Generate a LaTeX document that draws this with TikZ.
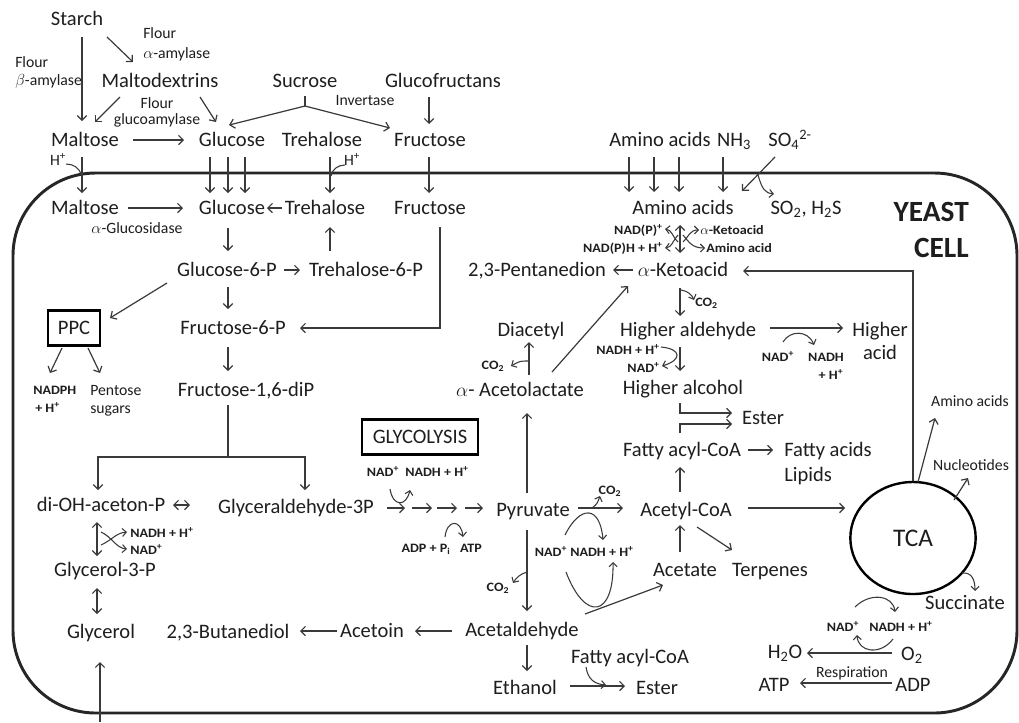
\documentclass[tikz,border=0pt]{standalone}
\usepackage{fontspec}
\setmainfont{Carlito}
\newfontfamily\cofont[FakeStretch=1.1]{Carlito}
\usetikzlibrary{arrows.meta,shapes.geometric}
\definecolor{txtc}{HTML}{1E1E1E}
\definecolor{linc}{HTML}{3A3A3A}
\newcommand\mfs{\fontsize{15.4}{18}\selectfont}
\newcommand\sfs{\fontsize{11.8}{14}\selectfont}
\newcommand\cfs{\cofont\bfseries\fontsize{9.6}{12}\selectfont}
\begin{document}
\begin{tikzpicture}[x=0.75pt,y=-0.75pt,
 every node/.style={inner sep=0pt, text=txtc},
 m/.style={font=\mfs, anchor=base, yshift=-5pt},
 s/.style={font=\sfs, anchor=base, yshift=-3.9pt},
 c/.style={font=\cfs, anchor=base, yshift=-3.2pt},
 ln/.style={draw=linc, line width=0.9pt},
 ar/.style={ln, -{Straight Barb[length=3.5pt,width=7pt]}},
 dar/.style={ln, {Straight Barb[length=3.5pt,width=7pt]}-{Straight Barb[length=3.5pt,width=7pt]}},
 curl/.style={ln, line width=0.8pt, -{Straight Barb[length=3pt,width=6pt]}},
 boxed/.style={draw=black, line width=1.8pt, minimum height=26pt, inner sep=0pt}
]
\fill[white] (0,0) rectangle (1019,722);
\useasboundingbox (0,0) rectangle (1019,722);
% membrane
\draw[line width=2.2pt, black!85, rounded corners=62pt] (13,173) rectangle (1017,713);

% ---------- outside ----------
\node[m] (starch) at (77,19) {Starch};
\node[s, anchor=base west] (flA1) at (143,33) {Flour};
\node[s, anchor=base west] (flA2) at (143,53) {$\alpha$-amylase};
\node[s, anchor=base west] (flB1) at (15,62) {Flour};
\node[s, anchor=base west] (flB2) at (15,80) {$\beta$-amylase};
\node[m] (mdx) at (160,81) {Maltodextrins};
\node[s] (flG1) at (157,103) {Flour};
\node[s] (flG2) at (157,119) {glucoamylase};
\node[m] (sucr) at (305,81) {Sucrose};
\node[s] (inv) at (365,100) {Invertase};
\node[m] (gfr) at (443,81) {Glucofructans};
\node[m] (maltO) at (85,140) {Maltose};
\node[m] (glcO) at (232,140) {Glucose};
\node[m] (treO) at (322,140) {Trehalose};
\node[m] (fruO) at (430,140) {Fructose};
\node[m] (aaO) at (660,140) {Amino acids};
\node[m] (nh3) at (734,140) {NH\textsubscript{3}};
\node[m] (so4) at (790,140) {SO\textsubscript{4}\textsuperscript{2-}};
\node[s] (hA) at (58,160) {H\textsuperscript{+}};
\node[s] (hB) at (352,160) {H\textsuperscript{+}};

% ---------- inside ----------
\node[m] (maltI) at (85,208) {Maltose};
\node[s] (aglc) at (137,228) {$\alpha$-Glucosidase};
\node[m] (glcI) at (232,208) {Glucose};
\node[m] (treI) at (325,208) {Trehalose};
\node[m] (fruI) at (430,208) {Fructose};
\node[m] (aaI) at (683,208) {Amino acids};
\node[m] (so2) at (806,208) {SO\textsubscript{2}, H\textsubscript{2}S};
\node[font=\bfseries\fontsize{22}{26}\selectfont, anchor=base east] (yeast) at (969,221) {YEAST};
\node[font=\bfseries\fontsize{22}{26}\selectfont, anchor=base east] (cell) at (969,257) {CELL};

\node[m] (g6p) at (227,270) {Glucose-6-P};
\node[m] (t6p) at (366,270) {Trehalose-6-P};
\node[m] (f6p) at (233,328) {Fructose-6-P};
\node[m] (f16) at (246,390) {Fructose-1,6-diP};
\node[boxed, font=\mfs, minimum width=39pt] (ppc) at (74,328) {PPC};
\node[c, anchor=base west] (nadph1) at (33,390) {NADPH};
\node[c, anchor=base west] (nadph2) at (35,408) {+ H\textsuperscript{+}};
\node[s, anchor=base west] (pent1) at (90,390) {Pentose};
\node[s, anchor=base west] (pent2) at (90,408) {sugars};

\node[m] (pent23) at (537,270) {2,3-Pentanedion};
\node[m] (keto) at (683,270) {$\alpha$-Ketoacid};
\node[c, anchor=base east] (nadp1) at (663,230) {NAD(P)\textsuperscript{+}};
\node[c, anchor=base east] (nadp2) at (663,248) {NAD(P)H + H\textsuperscript{+}};
\node[c, anchor=base west] (kA) at (700,230) {$\alpha$-Ketoacid};
\node[c, anchor=base west] (kB) at (706,248) {Amino acid};
\node[c, anchor=base west] (co2a) at (695,302) {CO\textsubscript{2}};
\node[m] (hald) at (688,330) {Higher aldehyde};
\node[m] (hacid1) at (880,330) {Higher};
\node[m] (hacid2) at (880,353) {acid};
\node[c] (nadA) at (778,357) {NAD\textsuperscript{+}};
\node[c] (nadhA) at (826,357) {NADH};
\node[c] (hA2) at (831,375) {+ H\textsuperscript{+}};
\node[c, anchor=base east] (nadhB) at (660,350) {NADH + H\textsuperscript{+}};
\node[c, anchor=base east] (nadB) at (660,368) {NAD\textsuperscript{+}};
\node[m] (halc) at (683,388) {Higher alcohol};
\node[m] (ester1) at (763,418) {Ester};
\node[m] (facoa) at (682,450) {Fatty acyl-CoA};
\node[m, anchor=base west] (fa) at (784,450) {Fatty acids};
\node[m, anchor=base west] (lip) at (784,475) {Lipids};
\node[m] (diac) at (531,330) {Diacetyl};
\node[c] (co2b) at (493,365) {CO\textsubscript{2}};
\node[m] (acl) at (520,390) {$\alpha$- Acetolactate};
\node[boxed, font=\mfs, minimum width=87pt] (glyc) at (420,437) {GLYCOLYSIS};
\node[c] (nadG) at (383,472) {NAD\textsuperscript{+}};
\node[c] (nadhG) at (437,472) {NADH + H\textsuperscript{+}};
\node[m] (dhap) at (101,505) {di-OH-aceton-P};
\node[m] (gap) at (296,507) {Glyceraldehyde-3P};
\node[m] (pyr) at (533,510) {Pyruvate};
\node[c] (adp) at (426,548) {ADP + P\textsubscript{i}};
\node[c] (atp) at (471,548) {ATP};
\node[c] (co2c) at (610,490) {CO\textsubscript{2}};
\node[m] (acoa) at (686,510) {Acetyl-CoA};
\node[c] (nadP) at (551,552) {NAD\textsuperscript{+}};
\node[c] (nadhP) at (602,552) {NADH + H\textsuperscript{+}};
\node[m] (acet) at (685,570) {Acetate};
\node[m] (terp) at (770,570) {Terpenes};
\node[c] (co2d) at (498,587) {CO\textsubscript{2}};
\node[ellipse, draw=black, line width=1.8pt, minimum width=94pt, minimum height=84pt, font=\fontsize{19}{21}\selectfont] (tca) at (913,538) {TCA};
\node[s] (aaT) at (970,401) {Amino acids};
\node[s] (nucl) at (971,465) {Nucleotides};
\node[m] (succ) at (965,603) {Succinate};
\node[c] (nadT) at (843,627) {NAD\textsuperscript{+}};
\node[c] (nadhT) at (901,627) {NADH + H\textsuperscript{+}};
\node[m] (h2o) at (785,652) {H\textsubscript{2}O};
\node[m] (o2) at (912,654) {O\textsubscript{2}};
\node[m] (atpR) at (774,685) {ATP};
\node[m] (adpR) at (913,685) {ADP};
\node[s] (resp) at (852,672) {Respiration};
\node[m] (g3p) at (105,570) {Glycerol-3-P};
\node[c, anchor=base west] (nadhD) at (130,533) {NADH + H\textsuperscript{+}};
\node[c, anchor=base west] (nadD) at (130,550) {NAD\textsuperscript{+}};
\node[m] (glol) at (101,632) {Glycerol};
\node[m] (bdo) at (228,632) {2,3-Butanediol};
\node[m] (acetoin) at (372,631) {Acetoin};
\node[m] (acald) at (522,630) {Acetaldehyde};
\node[m] (eth) at (525,688) {Ethanol};
\node[m] (facoa2) at (630,657) {Fatty acyl-CoA};
\node[m] (ester2) at (657,688) {Ester};

% ---------- connectors outside ----------
\draw[ar] (82,37) -- (82,121);
\draw[ar] (107,37) -- (133,62);
\draw[ar] (120,97) -- (95,122);
\draw[ar] (200,97) -- (216,122);
\draw[ln] (305,96) -- (305,106);
\draw[ar] (305,106) -- (229,125);
\draw[ar] (305,106) -- (390,128);
\draw[ar] (429,97) -- (429,124);
\draw[ar] (133,140) -- (184,140);
% membrane crossings
\draw[ar] (82,157) -- (82,193);
\draw[ln, line width=0.8pt] (66,164) to[out=0,in=100] (81,175);
\foreach \xx in {210,228,245} \draw[ar] (\xx,157) -- (\xx,193);
\draw[ar] (330,157) -- (330,193);
\draw[ln, line width=0.8pt] (345,165) to[out=180,in=80] (331,176);
\draw[ar] (429,157) -- (429,193);
\foreach \xx in {629,654,679,723} \draw[ar] (\xx,157) -- (\xx,192);
\draw[ar] (775,157) -- (742,191);
\draw[curl] (758,175) .. controls (762,189) and (765,193) .. (774,194);

% ---------- connectors inside ----------
\draw[ar] (128,208) -- (183,208);
\draw[ar] (282,208) -- (267,208);
\draw[ar] (228,228) -- (228,251);
\draw[ar] (330,251) -- (330,227);
\draw[ar] (284,270) -- (300,270);
\draw[ar] (228,287) -- (228,309);
\draw[ar] (228,347) -- (228,371);
\draw[ar] (440,227) -- (440,328) -- (300,328);
\draw[ar] (167,283) -- (110,318);
\draw[ar] (62,348) -- (50,373);
\draw[ar] (88,348) -- (100,373);
\draw[ln] (228,405) -- (228,457);
\draw[ar] (228,457) -| (98,490);
\draw[ar] (228,457) -| (305,490);
\draw[dar] (173,505) -- (190,505);
\draw[dar] (97,522) -- (97,556);
\draw[curl] (101,545) .. controls (112,540) and (116,533) .. (127,532);
\draw[curl] (101,532) .. controls (112,537) and (116,548) .. (127,549);
\draw[dar] (97,588) -- (97,614);
\draw[ar] (100,722) -- (100,662);
\draw[ar] (337,631) -- (300,631);
\draw[ar] (452,631) -- (415,631);
\draw[ar] (527,645) -- (527,671);
\draw[ar] (570,686) -- (625,686);
\draw[curl] (586,667) .. controls (588,680) and (595,684) .. (606,685);
% glycolysis chain
\draw[ar] (387,508) -- (405,508);
\draw[ar] (412,508) -- (432,508);
\draw[ar] (437,508) -- (457,508);
\draw[ar] (465,508) -- (483,508);
\draw[curl] (390,489) .. controls (393,507) and (406,507) .. (410,490);
\draw[curl] (445,537) .. controls (447,519) and (461,519) .. (463,537);
% pyruvate branches
\draw[ar] (527,493) -- (527,413);
\draw[ar] (529,375) -- (529,342);
\draw[curl] (528,361) .. controls (520,361) .. (511,366);
\draw[ar] (552,372) -- (628,286);
\draw[ar] (633,270) -- (613,270);
\draw[dar] (680,225) -- (680,253);
\draw[curl] (678,242) .. controls (672,236) and (672,230) .. (665,229);
\draw[curl] (678,235) .. controls (672,242) and (672,247) .. (665,248);
\draw[curl] (683,242) .. controls (689,236) and (690,230) .. (699,230);
\draw[curl] (683,235) .. controls (689,242) and (692,248) .. (705,248);
\draw[ar] (680,288) -- (680,316);
\draw[curl] (681,290) .. controls (688,291) and (692,295) .. (694,300);
\draw[ar] (680,347) -- (680,371);
\draw[curl] (661,347) .. controls (682,349) and (682,360) .. (662,366);
\draw[ar] (680,403) |- (732,413);
\draw[ar] (680,433) |- (732,424);
\draw[ar] (748,450) -- (773,450);
\draw[ar] (770,328) -- (843,328);
\draw[curl] (783,342) .. controls (790,330) and (808,330) .. (814,345);
\draw[ar] (680,492) -- (680,467);
\draw[ar] (680,552) -- (680,525);
\draw[ar] (748,508) -- (845,508);
\draw[ar] (697,527) -- (732,550);
\draw[ar] (578,508) -- (623,508);
\draw[curl] (592,508) .. controls (597,504) .. (600,496);
\draw[curl] (565,535) .. controls (580,505) and (600,505) .. (603,540);
\draw[ar] (527,530) -- (527,611);
\draw[curl] (527,572) .. controls (520,574) and (516,578) .. (513,583);
\draw[ar] (585,614) -- (663,585);
\draw[curl] (566,572) .. controls (585,622) and (614,618) .. (613,562);
% TCA
\draw[ar] (tca.north) |- (743,271);
\draw[ar] (918,482) -- (935,418);
\draw[ar] (954,500) -- (968,478);
\draw[curl] (962,573) .. controls (972,572) and (975,580) .. (975,591);
\draw[curl] (855,607) .. controls (870,592) and (893,595) .. (895,612);
\draw[curl] (893,639) .. controls (880,656) and (858,652) .. (857,635);
\draw[ar] (892,653) -- (807,653);
\draw[ar] (892,683) -- (800,683);
\end{tikzpicture}
\end{document}
